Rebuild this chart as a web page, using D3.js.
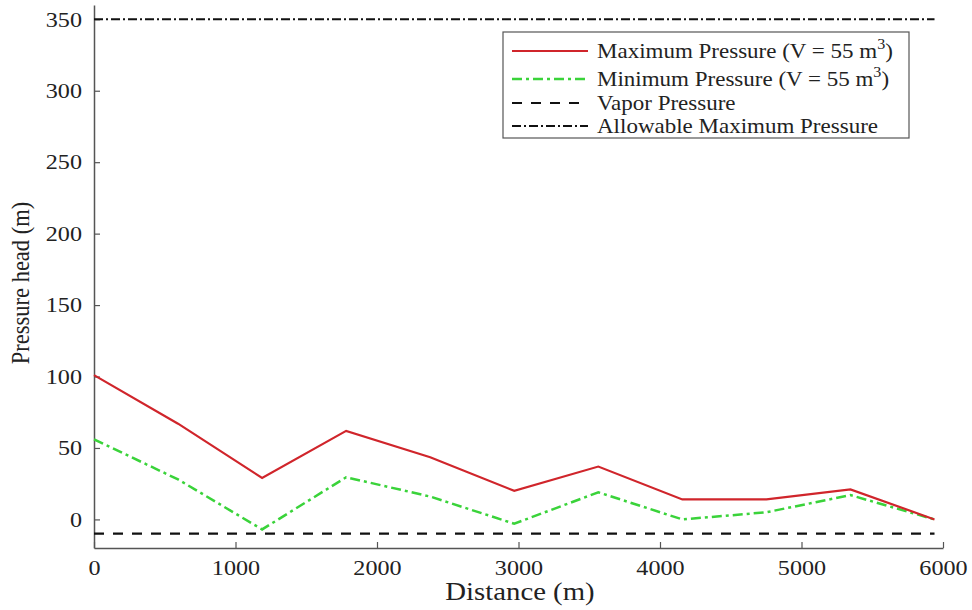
<!DOCTYPE html>
<html><head><meta charset="utf-8">
<script src="https://cdn.jsdelivr.net/npm/d3@7"></script>
<style>body{margin:0;background:#fff}svg{display:block}</style>
</head><body>
<svg id="c" width="972" height="610"></svg>
<script>
const distance = [0, 594, 1188, 1782, 2376, 2970, 3564, 4158, 4752, 5346, 5940];
const maxPressure = [101, 67, 29, 62, 43.5, 20, 37, 14, 14, 21, 0];
const minPressure = [56, 28, -7, 29.5, 16, -3, 19, 0, 5, 17, 0];
const vaporPressure = -10;
const allowableMax = 350;
const xTicks = [0, 1000, 2000, 3000, 4000, 5000, 6000];
const yTicks = [0, 50, 100, 150, 200, 250, 300, 350];
const legendLabels = ["Maximum Pressure (V = 55 m", "Minimum Pressure (V = 55 m", "Vapor Pressure", "Allowable Maximum Pressure"];

const FONT = '"Liberation Serif", "Tinos", "Times New Roman", serif';
const SX = 1.15; // horizontal stretch of the reference's text
const svg = d3.select("#c");
const x = d3.scaleLinear().domain([0, 6000]).range([94, 943]);
const y = d3.scaleLinear().domain([-20, 360]).range([548, 5]);

const gx = svg.append("g").attr("transform", `translate(0,${y(-20)})`)
  .call(d3.axisBottom(x).tickValues(xTicks).tickSizeInner(-6).tickSizeOuter(0).tickPadding(12).tickFormat(d3.format("d")));
const gy = svg.append("g").attr("transform", `translate(${x(0)},0)`)
  .call(d3.axisLeft(y).tickValues(yTicks).tickSizeInner(-6).tickSizeOuter(0).tickPadding(12).tickFormat(d3.format("d")));
[gx, gy].forEach(g => {
  g.attr("font-family", FONT).attr("font-size", 21);
  g.select(".domain").attr("stroke", "#555").attr("stroke-width", 1.5);
  g.selectAll(".tick line").attr("stroke", "#555").attr("stroke-width", 1.2);
  g.selectAll(".tick text").attr("fill", "#222").attr("font-family", FONT).each(function () {
    const t = d3.select(this);
    const xv = +t.attr("x") || 0;
    t.attr("x", xv / SX).attr("transform", `scale(${SX},1)`);
  });
});

const line = d3.line().x(d => x(d[0])).y(d => y(d[1]));
const xEnd = distance[distance.length - 1];

svg.append("path").datum([[0, allowableMax], [xEnd, allowableMax]]).attr("d", line)
  .attr("fill", "none").attr("stroke", "#111").attr("stroke-width", 2).attr("stroke-dasharray", "9,3,2,3");
svg.append("path").datum([[0, vaporPressure], [xEnd, vaporPressure]]).attr("d", line)
  .attr("fill", "none").attr("stroke", "#111").attr("stroke-width", 2.2).attr("stroke-dasharray", "10,9");

svg.append("path").datum(distance.map((d, i) => [d, minPressure[i]])).attr("d", line)
  .attr("fill", "none").attr("stroke", "#3ad33a").attr("stroke-width", 2.5).attr("stroke-dasharray", "10,4,3,4");
svg.append("path").datum(distance.map((d, i) => [d, maxPressure[i]])).attr("d", line)
  .attr("fill", "none").attr("stroke", "#d0252b").attr("stroke-width", 2.2);

svg.append("text").attr("transform", `translate(520,600) scale(${SX},1)`).attr("text-anchor", "middle")
  .attr("font-family", FONT).attr("font-size", 25).attr("fill", "#222").text("Distance (m)");
svg.append("text").attr("transform", `translate(29,283) rotate(-90) scale(1,${SX})`).attr("text-anchor", "middle")
  .attr("font-family", FONT).attr("font-size", 22.5).attr("fill", "#222").text("Pressure head (m)");

const lg = svg.append("g");
lg.append("rect").attr("x", 503).attr("y", 32).attr("width", 406).attr("height", 106)
  .attr("fill", "#fff").attr("stroke", "#555").attr("stroke-width", 1.2);
const styles = [
  {stroke: "#d0252b", dash: null, w: 2.2},
  {stroke: "#3ad33a", dash: "10,4,3,4", w: 2.5},
  {stroke: "#111", dash: "10,9", w: 2.2},
  {stroke: "#111", dash: "9,3,2,3", w: 2}
];
const rowY = [51, 79, 103, 126];
legendLabels.forEach((lab, i) => {
  lg.append("line").attr("x1", 512).attr("x2", 588).attr("y1", rowY[i]).attr("y2", rowY[i])
    .attr("stroke", styles[i].stroke).attr("stroke-width", styles[i].w).attr("stroke-dasharray", styles[i].dash);
  const t = lg.append("text").attr("transform", `translate(597,${rowY[i] + 7}) scale(${SX},1)`)
    .attr("font-family", FONT).attr("font-size", 20).attr("fill", "#222");
  t.append("tspan").text(lab);
  if (i < 2) {
    t.append("tspan").attr("dy", -9).attr("font-size", 14).text("3");
    t.append("tspan").attr("dy", 9).text(")");
  }
});
</script>
</body></html>
